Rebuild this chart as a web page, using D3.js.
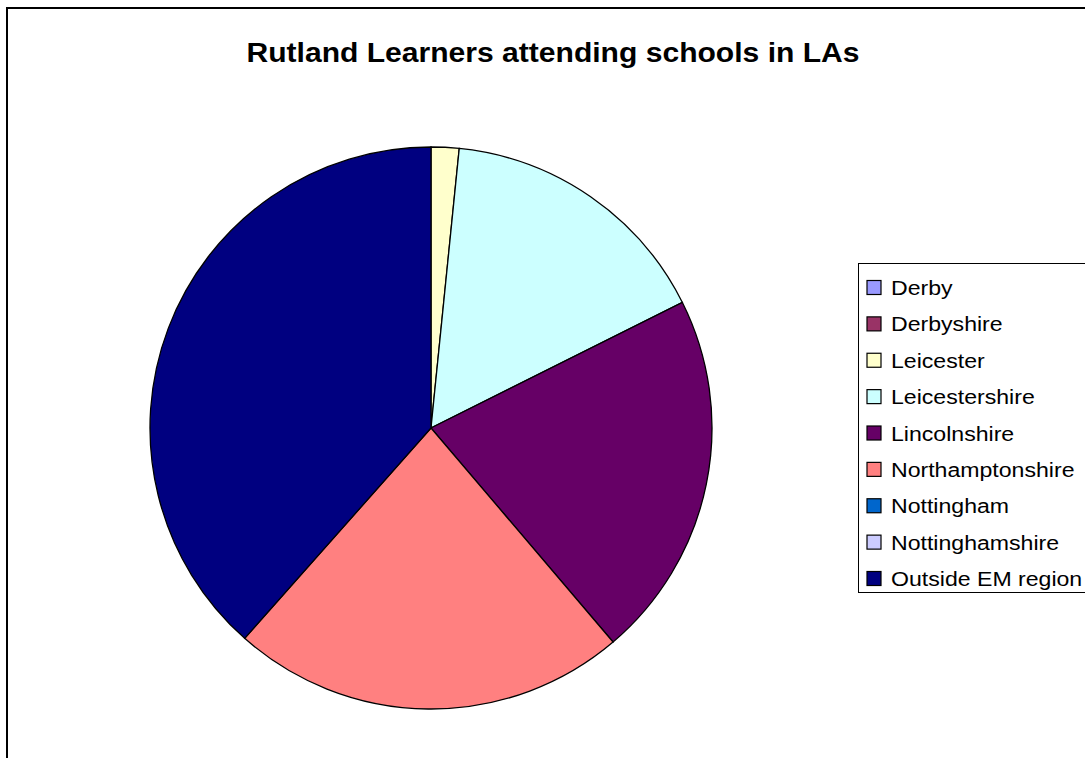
<!DOCTYPE html>
<html><head><meta charset="utf-8">
<script src="https://cdn.jsdelivr.net/npm/d3@7/dist/d3.min.js"></script>
<style>body{margin:0;background:#fff}svg{display:block}</style>
</head><body>
<svg id="c" width="1085" height="758"></svg>
<script>
const categories = ["Derby","Derbyshire","Leicester","Leicestershire","Lincolnshire","Northamptonshire","Nottingham","Nottinghamshire","Outside EM region"];
const values = [0,0,5,50,66,71,0,0,120];
const colors = ["#9999FF","#993366","#FFFFCC","#CCFFFF","#660066","#FF8080","#0066CC","#CCCCFF","#000080"];
const title = "Rutland Learners attending schools in LAs";

const svg = d3.select("#c");
svg.append("rect").attr("x",7).attr("y",8).attr("width",1200).attr("height",1000)
  .attr("fill","#fff").attr("stroke","#000").attr("stroke-width",2);

svg.append("text").attr("x",553).attr("y",62).attr("text-anchor","middle")
  .attr("font-family","Liberation Sans, Arial, sans-serif").attr("font-weight","bold")
  .attr("font-size",27).attr("textLength",613).attr("lengthAdjust","spacingAndGlyphs").text(title);

const data = categories.map((c,i)=>({c, v:values[i], col:colors[i]}));
const pie = d3.pie().value(d=>d.v).sort(null);
const arc = d3.arc().innerRadius(0).outerRadius(281);
const g = svg.append("g").attr("transform","translate(431,428)");
g.selectAll("path").data(pie(data).filter(d=>d.data.v>0)).join("path")
  .attr("d",arc).attr("fill",d=>d.data.col).attr("stroke","#000").attr("stroke-width",1.3);

const lg = svg.append("g");
lg.append("rect").attr("x",858.5).attr("y",263.5).attr("width",300).attr("height",329)
  .attr("fill","#fff").attr("stroke","#000").attr("stroke-width",1);
const ly = d3.scalePoint().domain(categories).range([287.5,578.5]);
const items = lg.selectAll("g.it").data(data).join("g").attr("class","it")
  .attr("transform",d=>`translate(0,${ly(d.c)})`);
items.append("rect").attr("x",867).attr("y",-7).attr("width",14).attr("height",14)
  .attr("fill",d=>d.col).attr("stroke","#000").attr("stroke-width",1.2);
items.append("text").attr("x",891).attr("y",7.5).attr("font-family","Liberation Sans, Arial, sans-serif")
  .attr("font-size",21)
  .attr("transform","translate(891,0) scale(1.1,1) translate(-891,0)")
  .text(d=>d.c);
</script>
</body></html>
